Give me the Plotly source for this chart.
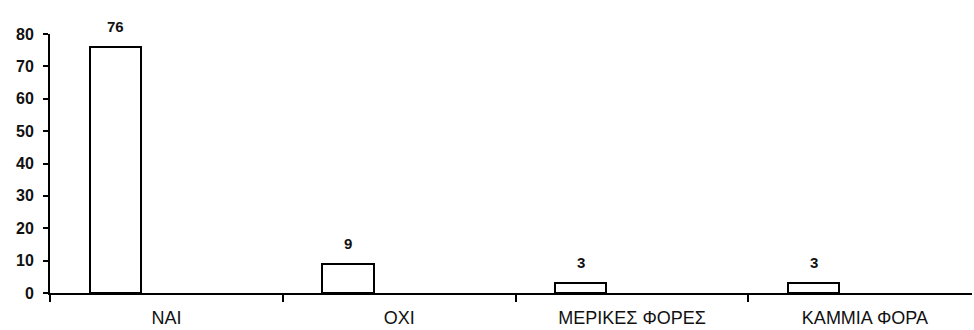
import plotly.graph_objects as go

categories = ["ΝΑΙ", "ΟΧΙ", "ΜΕΡΙΚΕΣ ΦΟΡΕΣ", "ΚΑΜΜΙΑ ΦΟΡΑ"]
values = [76, 9, 3, 3]
y_ticks = [0, 10, 20, 30, 40, 50, 60, 70, 80]

BAR_WIDTH = 0.22
BAR_OFFSET = -0.33  # left edge relative to category centre
FONT = "Liberation Sans, Arial, sans-serif"

fig = go.Figure()
fig.add_trace(go.Bar(
    x=categories, y=values,
    width=BAR_WIDTH, offset=BAR_OFFSET,
    marker=dict(color="white", line=dict(color="black", width=2)),
    showlegend=False, hoverinfo="skip",
))

for i, v in enumerate(values):
    fig.add_annotation(
        x=i + BAR_OFFSET + BAR_WIDTH / 2, y=v, xref="x", yref="y",
        text=str(v), showarrow=False, yanchor="bottom", yshift=10,
        font=dict(family=FONT, size=15, color="#111", weight="bold"),
    )

fig.update_layout(
    width=974, height=330,
    margin=dict(l=50, r=2, t=34, b=37),
    paper_bgcolor="white", plot_bgcolor="white",
    bargap=0,
    font=dict(family=FONT, color="#111"),
)
fig.update_xaxes(
    type="category", range=[-0.5, 3.46], automargin=False,
    tickson="boundaries", ticks="outside", ticklen=7, tickwidth=2, tickcolor="black",
    showline=True, linecolor="black", linewidth=2,
    showgrid=False, zeroline=False,
    tickfont=dict(family=FONT, size=18, color="#111"),
    ticklabelstandoff=7,
)
fig.update_yaxes(
    range=[0, 80], tickvals=y_ticks, automargin=False,
    ticks="outside", ticklen=5, tickwidth=2, tickcolor="black",
    showline=True, linecolor="black", linewidth=2,
    showgrid=False, zeroline=False,
    tickfont=dict(family=FONT, size=16, color="#111", weight="bold"),
    ticklabelstandoff=6,
)

fig.write_html("out.html")
